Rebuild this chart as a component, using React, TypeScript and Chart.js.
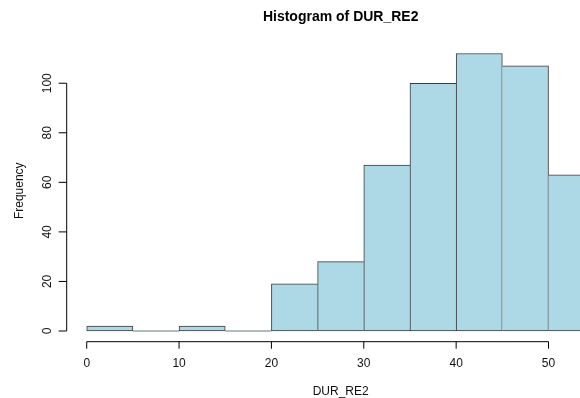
import React, { useEffect, useRef } from "react";
import { Chart, registerables } from "chart.js";

Chart.register(...registerables);

// ---- data ----
const binStarts = [0, 5, 10, 15, 20, 25, 30, 35, 40, 45, 50];
const binWidth = 5;
const counts = [2, 0, 2, 0, 19, 28, 67, 100, 112, 107, 63];
const xTicks = [0, 10, 20, 30, 40, 50];
const yTicks = [0, 20, 40, 60, 80, 100];
const titleText = "Histogram of DUR_RE2";
const xLabel = "DUR_RE2";
const yLabel = "Frequency";

const FONT = '"Liberation Sans", Arial, Helvetica, sans-serif';

export default function App() {
  const ref = useRef<HTMLCanvasElement>(null);

  useEffect(() => {
    const canvas = ref.current;
    if (!canvas) return;

    const xMinData = 0;
    const xMaxData = binStarts[binStarts.length - 1] + binWidth;
    const xPad = (xMaxData - xMinData) * 0.04;
    const yMaxData = Math.max(...counts);
    const yPad = yMaxData * 0.04;

    const axesPlugin = {
      id: "rAxes",
      afterDraw(chart: any) {
        const ctx = chart.ctx as CanvasRenderingContext2D;
        const xs = chart.scales.x;
        const ys = chart.scales.y;
        const area = chart.chartArea;
        const tick = 7;
        ctx.save();
        ctx.strokeStyle = "#000";
        ctx.lineWidth = 1;
        ctx.fillStyle = "#111";

        // x axis
        const ay = area.bottom - 0.4;
        const x0 = xs.getPixelForValue(xTicks[0]);
        const x1 = xs.getPixelForValue(xTicks[xTicks.length - 1]);
        ctx.beginPath();
        ctx.moveTo(x0, ay);
        ctx.lineTo(x1, ay);
        xTicks.forEach((t) => {
          const px = xs.getPixelForValue(t);
          ctx.moveTo(px, ay);
          ctx.lineTo(px, ay + tick);
        });
        ctx.stroke();
        ctx.font = `12px ${FONT}`;
        ctx.textAlign = "center";
        ctx.textBaseline = "alphabetic";
        xTicks.forEach((t) => {
          ctx.fillText(String(t), xs.getPixelForValue(t), 367);
        });

        // y axis
        const ax = area.left + 0.3;
        const y0 = ys.getPixelForValue(yTicks[0]);
        const y1 = ys.getPixelForValue(yTicks[yTicks.length - 1]);
        ctx.beginPath();
        ctx.moveTo(ax, y0);
        ctx.lineTo(ax, y1);
        yTicks.forEach((t) => {
          const py = ys.getPixelForValue(t);
          ctx.moveTo(ax, py);
          ctx.lineTo(ax - tick - 1, py);
        });
        ctx.stroke();
        yTicks.forEach((t) => {
          const py = ys.getPixelForValue(t);
          ctx.save();
          ctx.translate(50.8, py);
          ctx.rotate(-Math.PI / 2);
          ctx.fillText(String(t), 0, 0);
          ctx.restore();
        });

        // labels
        const cx = xs.getPixelForValue((xMinData - xPad + xMaxData + xPad) / 2);
        const cy = (area.top + area.bottom) / 2;
        ctx.fillText(xLabel, cx, 395);
        ctx.save();
        ctx.translate(23, cy - 1.5);
        ctx.rotate(-Math.PI / 2);
        ctx.fillText(yLabel, 0, 0);
        ctx.restore();

        // title
        ctx.fillStyle = "#000";
        ctx.font = `bold 14px ${FONT}`;
        ctx.fillText(titleText, cx, 20.5);
        ctx.restore();
      },
    };

    const data = binStarts.map((s, i) => ({ x: s + binWidth / 2, y: counts[i] }));

    const chart = new Chart(canvas, {
      type: "bar",
      data: {
        datasets: [
          {
            data: data as any,
            backgroundColor: "#ADD8E6",
            borderColor: "#3a3a3a",
            borderSkipped: false,
            minBarLength: 1,
            barPercentage: 1,
            categoryPercentage: 1,
            borderWidth: (c: any) => {
              const i = c.dataIndex;
              const v = counts[i];
              const prev = i > 0 ? counts[i - 1] : 0;
              const next = i < counts.length - 1 ? counts[i + 1] : 0;
              return { top: 1, bottom: 1, left: prev <= v ? 1 : 0, right: next < v ? 1 : 0 };
            },
          } as any,
        ],
      },
      options: {
        animation: false,
        responsive: false,
        maintainAspectRatio: false,
        layout: { padding: { left: 66.4, right: 0, top: 42.4, bottom: 55.9 } },
        scales: {
          x: {
            type: "linear",
            display: false,
            offset: false,
            min: xMinData - xPad,
            max: 53.41,
          },
          y: {
            type: "linear",
            display: false,
            min: -yPad,
            max: yMaxData + yPad,
          },
        },
        plugins: {
          legend: { display: false },
          tooltip: { enabled: false },
          title: { display: false },
        },
      },
      plugins: [axesPlugin],
    });

    return () => chart.destroy();
  }, []);

  return (
    <div style={{ position: "absolute", left: 0, top: 0, width: 580, height: 398, background: "#fff" }}>
      <canvas ref={ref} width={580} height={398} style={{ display: "block", width: 580, height: 398 }} />
    </div>
  );
}
